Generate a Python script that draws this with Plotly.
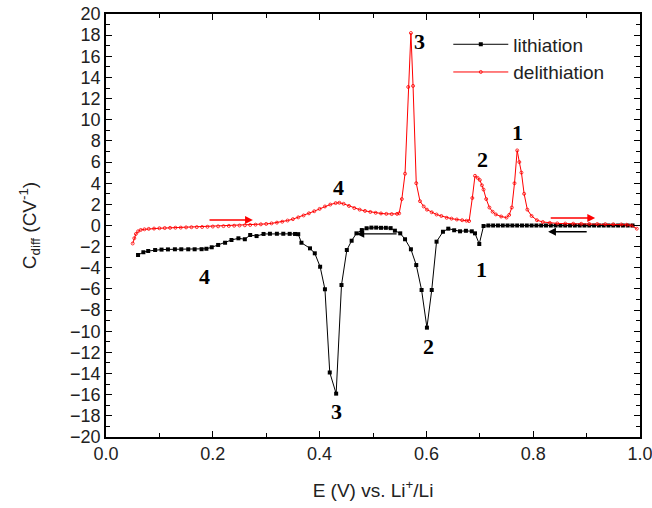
import plotly.graph_objects as go

# ---- data ----
deli_x = [0.050, 0.053, 0.056, 0.060, 0.065, 0.072, 0.080, 0.090, 0.100, 0.110,
          0.120, 0.130, 0.140, 0.150, 0.160, 0.170, 0.180, 0.190, 0.200, 0.210,
          0.220, 0.230, 0.240, 0.250, 0.260, 0.270, 0.280, 0.290, 0.300, 0.310,
          0.320, 0.330, 0.340, 0.350, 0.360, 0.370, 0.380, 0.390, 0.400, 0.410,
          0.420, 0.430, 0.437, 0.445, 0.455, 0.465, 0.475, 0.485, 0.495, 0.505,
          0.515, 0.525, 0.535, 0.545, 0.549, 0.554, 0.560, 0.566, 0.571, 0.575,
          0.581, 0.588, 0.595, 0.601, 0.610, 0.619, 0.628, 0.638, 0.647, 0.657,
          0.667, 0.675, 0.680, 0.686, 0.691, 0.696, 0.700, 0.704, 0.707, 0.712,
          0.718, 0.724, 0.730, 0.740, 0.750, 0.755, 0.760, 0.765, 0.770, 0.774,
          0.778, 0.783, 0.789, 0.797, 0.807, 0.818, 0.831, 0.845, 0.860, 0.875,
          0.890, 0.905, 0.920, 0.935, 0.950, 0.965, 0.975, 0.984, 0.994]
deli_y = [-1.7, -1.2, -0.8, -0.55, -0.42, -0.36, -0.32, -0.29, -0.26, -0.24,
          -0.22, -0.21, -0.20, -0.18, -0.16, -0.15, -0.14, -0.12, -0.10, -0.08,
          -0.06, -0.04, -0.02, 0.0, 0.02, 0.05, 0.08, 0.11, 0.15, 0.20,
          0.27, 0.36, 0.47, 0.60, 0.77, 0.95, 1.15, 1.35, 1.57, 1.80,
          1.98, 2.12, 2.15, 2.05, 1.85, 1.65, 1.50, 1.38, 1.28, 1.20,
          1.14, 1.10, 1.08, 1.10, 1.15, 2.5, 4.9, 13.1, 18.2, 13.2,
          4.0, 2.3, 1.8, 1.5, 1.25, 1.04, 0.9, 0.73, 0.65, 0.57,
          0.5, 0.45, 0.42, 2.6, 4.7, 4.5, 4.3, 3.8, 3.4, 2.5,
          1.7, 1.3, 1.05, 0.85, 0.75, 1.0, 1.7, 4.0, 7.1, 6.0,
          5.0, 3.0, 1.5, 0.9, 0.5, 0.33, 0.25, 0.2, 0.18, 0.17,
          0.16, 0.15, 0.14, 0.13, 0.12, 0.1, 0.07, 0.0, -0.3]

lith_x = [0.060, 0.070, 0.079, 0.092, 0.104, 0.116, 0.129, 0.141, 0.154, 0.166,
          0.179, 0.188, 0.198, 0.210, 0.223, 0.235, 0.248, 0.260, 0.270, 0.282,
          0.295, 0.307, 0.320, 0.332, 0.344, 0.354, 0.360, 0.366, 0.382, 0.391,
          0.401, 0.410, 0.419, 0.431, 0.441, 0.451, 0.460, 0.469, 0.479, 0.488,
          0.497, 0.506, 0.515, 0.524, 0.533, 0.541, 0.551, 0.560, 0.571, 0.581,
          0.591, 0.601, 0.610, 0.619, 0.631, 0.641, 0.652, 0.663, 0.674, 0.685,
          0.691, 0.699, 0.707, 0.716, 0.725, 0.734, 0.743, 0.752, 0.761, 0.770,
          0.779, 0.788, 0.797, 0.806, 0.815, 0.824, 0.833, 0.842, 0.851, 0.860,
          0.869, 0.878, 0.887, 0.896, 0.905, 0.914, 0.923, 0.932, 0.941, 0.950,
          0.959, 0.968, 0.977, 0.986]
lith_y = [-2.79, -2.53, -2.41, -2.32, -2.28, -2.26, -2.25, -2.25, -2.25, -2.25,
          -2.24, -2.2, -2.06, -1.84, -1.63, -1.37, -1.21, -1.3, -0.9, -1.0,
          -0.8, -0.78, -0.78, -0.78, -0.79, -0.8, -0.82, -1.63, -2.16, -2.63,
          -3.9, -6.03, -13.9, -15.9, -5.63, -2.32, -1.44, -0.74, -0.43, -0.26,
          -0.2, -0.2, -0.22, -0.22, -0.25, -0.49, -0.74, -1.3, -2.25, -3.74,
          -6.1, -9.66, -6.1, -1.53, -0.59, -0.3, -0.45, -0.55, -0.5, -0.55,
          -0.74, -1.75, -0.05, 0.0, 0.0, 0.0, 0.0, 0.0, 0.0, 0.0,
          0.0, 0.0, 0.0, 0.0, 0.0, 0.0, 0.0, 0.0, 0.0, 0.0,
          0.0, 0.0, 0.0, 0.0, 0.0, 0.0, 0.0, 0.0, 0.0, 0.0,
          0.0, 0.0, 0.0, 0.0]

# peak labels: (x, y, text)
label_x = [0.587, 0.436, 0.705, 0.770, 0.703, 0.604, 0.431, 0.185]
label_y = [17.4, 3.6, 6.25, 8.8, -4.2, -11.4, -17.6, -4.8]
label_t = ["3", "4", "2", "1", "1", "2", "3", "4"]

# sweep-direction arrows: (x_from, x_to, y, color)
arrow_from = [0.191, 0.830, 0.547, 0.903]
arrow_to = [0.275, 0.916, 0.469, 0.828]
arrow_y = [0.52, 0.71, -0.8, -0.59]
arrow_c = ["#ff0000", "#ff0000", "#000000", "#000000"]

fig = go.Figure()
fig.add_trace(go.Scatter(
    x=lith_x, y=lith_y, mode="lines+markers", name="lithiation",
    line=dict(color="#000000", width=1),
    marker=dict(symbol="square", size=4, color="#000000")))
fig.add_trace(go.Scatter(
    x=deli_x, y=deli_y, mode="lines+markers", name="delithiation",
    line=dict(color="#ff0000", width=1),
    marker=dict(symbol="circle-open", size=3, color="#ff0000", line=dict(width=0.8))))

for x, y, t in zip(label_x, label_y, label_t):
    fig.add_annotation(x=x, y=y, text="<b>" + t + "</b>", showarrow=False,
                       font=dict(family="Liberation Serif", size=22, color="#000000"))

for x0, x1, y, c in zip(arrow_from, arrow_to, arrow_y, arrow_c):
    fig.add_annotation(x=x1, y=y, ax=x0, ay=y, xref="x", yref="y", axref="x", ayref="y",
                       text="", showarrow=True, arrowhead=2, arrowsize=1.2,
                       arrowwidth=1.3, arrowcolor=c)

axis_common = dict(
    showline=True, linecolor="#000000", linewidth=1.5, mirror="allticks",
    ticks="inside", ticklen=6, tickwidth=1.2, tickcolor="#000000",
    showgrid=False, zeroline=False, automargin=False, ticklabeloverflow="allow",
    tickfont=dict(family="Liberation Sans", size=18, color="#222222"),
)

fig.update_xaxes(range=[0, 1], dtick=0.2, tickformat=".1f",
                 minor=dict(dtick=0.1, ticks="inside", ticklen=4, tickcolor="#000000"),
                 title=dict(text="E (V) vs. Li<sup>+</sup>/Li", standoff=20,
                            font=dict(family="Liberation Sans", size=19, color="#222222")),
                 **axis_common)
fig.update_yaxes(range=[-20, 20], dtick=2,
                 minor=dict(dtick=1, ticks="inside", ticklen=4, tickcolor="#000000"),
                 title=dict(text="C<sub>diff</sub> (CV<sup>-1</sup>)", standoff=28,
                            font=dict(family="Liberation Sans", size=19, color="#222222")),
                 **axis_common)

fig.update_layout(
    width=652, height=508,
    margin=dict(l=106, r=12, t=14, b=71),
    paper_bgcolor="#ffffff", plot_bgcolor="#ffffff",
    showlegend=True,
    legend=dict(x=0.641, y=0.973, xanchor="left", yanchor="top",
                bgcolor="rgba(0,0,0,0)", borderwidth=0,
                font=dict(family="Liberation Sans", size=19, color="#222222"),
                tracegroupgap=0, itemwidth=55),
)

fig.write_html("out.html")
